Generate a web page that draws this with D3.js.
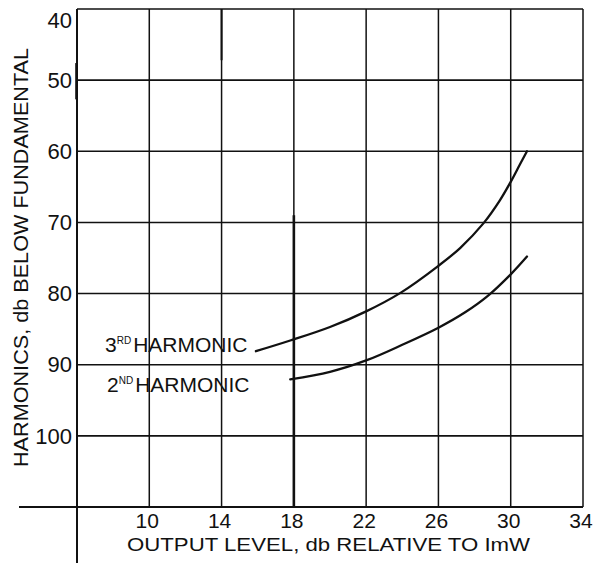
<!DOCTYPE html>
<html><head><meta charset="utf-8">
<script src="https://cdn.jsdelivr.net/npm/d3@7"></script>
<style>
html,body{margin:0;padding:0;background:#fff;}
svg{display:block;}
text{font-family:"Liberation Sans",Arial,sans-serif;fill:#111;}
</style></head>
<body>
<svg id="c" width="599" height="563"></svg>
<script>
// ---- data ----
const xTicks = [10, 14, 18, 22, 26, 30, 34];
const yTicks = [40, 50, 60, 70, 80, 90, 100];
const xGrid = [10, 14, 18, 22, 26, 30, 34];
const yGrid = [40, 50, 60, 70, 80, 90, 100];
const thirdX = [15.9, 17.8, 20, 22, 23.9, 26, 27.2, 28.5, 29.4, 30, 30.5, 30.9];
const thirdY = [88.1, 86.6, 84.7, 82.5, 79.9, 76.1, 73.6, 70.1, 66.9, 64.3, 61.9, 60.0];
const secondX = [17.8, 20, 22, 24, 26, 27.5, 28.7, 30, 30.9];
const secondY = [92.05, 91.0, 89.4, 87.2, 84.8, 82.6, 80.4, 77.3, 74.8];
const seriesNames = ["3", "2"];
const seriesSup = ["RD", "ND"];
const xTitle = "OUTPUT LEVEL, db RELATIVE TO ImW";
const yTitle = "HARMONICS, db BELOW FUNDAMENTAL";

const svg = d3.select("#c");
const x = d3.scaleLinear().domain([6, 34]).range([77, 583]);
const y = d3.scaleLinear().domain([40, 110]).range([9, 507]);
const ink = "#111";

// grid horizontals
svg.append("g").selectAll("line").data(yGrid).join("line")
  .attr("x1", x(6)).attr("x2", x(34))
  .attr("y1", d => y(d)).attr("y2", d => y(d))
  .attr("stroke", ink).attr("stroke-width", 1.6);
// grid verticals
svg.append("g").selectAll("line").data(xGrid).join("line")
  .attr("x1", d => x(d)).attr("x2", d => x(d))
  .attr("y1", y(40)).attr("y2", y(110))
  .attr("stroke", ink).attr("stroke-width", 1.5);
// heavier segment on the 18 line
svg.append("line").attr("x1", x(18)).attr("x2", x(18))
  .attr("y1", y(69)).attr("y2", y(110)).attr("stroke", ink).attr("stroke-width", 2.6);
svg.append("line").attr("x1", x(14)).attr("x2", x(14))
  .attr("y1", y(40)).attr("y2", y(47.2)).attr("stroke", ink).attr("stroke-width", 2);
// x axis (extends left past y axis)
svg.append("line").attr("x1", 19).attr("x2", x(34))
  .attr("y1", y(110)).attr("y2", y(110)).attr("stroke", ink).attr("stroke-width", 2);
// y axis (extends below x axis)
svg.append("line").attr("x1", x(6)).attr("x2", x(6))
  .attr("y1", y(40)).attr("y2", 563).attr("stroke", ink).attr("stroke-width", 2);
svg.append("line").attr("x1", x(6)-0.5).attr("x2", x(6)-0.5)
  .attr("y1", y(47.6)).attr("y2", y(52.7)).attr("stroke", ink).attr("stroke-width", 2.6);

// y tick labels
svg.append("g").selectAll("text").data(yTicks).join("text")
  .attr("x", 72).attr("y", d => Math.max(y(d), y(40) + 11))
  .attr("dy", "0.35em").attr("text-anchor", "end")
  .style("font-size", "22px").text(d => d);
// x tick labels
svg.append("g").selectAll("text").data(xTicks).join("text")
  .attr("x", d => x(d) - 2).attr("y", 528)
  .attr("text-anchor", "middle")
  .style("font-size", "21px").text(d => d);

// axis titles
svg.append("text").attr("x", 127).attr("y", 551)
  .attr("textLength", 403).attr("lengthAdjust", "spacingAndGlyphs")
  .style("font-size", "19px").text(xTitle);
svg.append("text").attr("transform", "translate(28,467) rotate(-90)")
  .attr("textLength", 419).attr("lengthAdjust", "spacingAndGlyphs")
  .style("font-size", "21px").text(yTitle);

// curves
const line = d3.line().x(d => x(d[0])).y(d => y(d[1])).curve(d3.curveCatmullRom.alpha(0.5));
const s3 = d3.zip(thirdX, thirdY), s2 = d3.zip(secondX, secondY);
[s3, s2].forEach(s => svg.append("path").attr("d", line(s))
  .attr("fill", "none").attr("stroke", ink).attr("stroke-width", 2.3)
  .attr("stroke-linecap", "round"));

// curve labels
const labelBase = [352, 392];
seriesNames.forEach((n, i) => {
  const t = svg.append("text").attr("x", i === 0 ? 105 : 107).attr("y", labelBase[i])
    .style("font-size", "21px");
  t.append("tspan").text(n);
  t.append("tspan").attr("dy", -8).style("font-size", "10px").text(seriesSup[i]);
  t.append("tspan").attr("dy", 8).attr("dx", 2).text("HARMONIC");
});
</script>
</body></html>
